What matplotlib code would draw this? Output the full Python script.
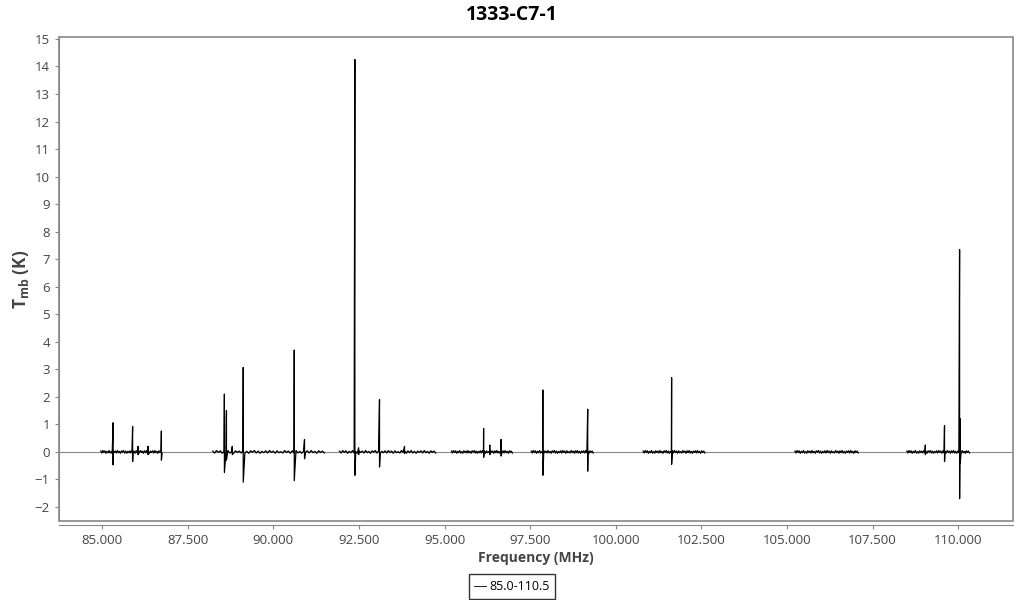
import matplotlib.pyplot as plt
from matplotlib.patches import Rectangle
import numpy as np

plt.rcParams['font.family'] = ['Open Sans', 'DejaVu Sans']
plt.rcParams['mathtext.fontset'] = 'custom'
plt.rcParams['mathtext.bf'] = 'Open Sans:bold'
plt.rcParams['mathtext.rm'] = 'Open Sans'

# observed bands (MHz)
seg_start = [84.96, 88.23, 91.93, 95.20, 97.53, 100.80, 105.23, 108.50]
seg_end = [86.75, 91.49, 94.74, 96.98, 99.34, 102.60, 107.08, 110.33]

# baseline noise (K)
noise = [0.03, -0.04, 0.05, -0.02, 0.04, -0.05, 0.02, -0.03, 0.05, -0.04,
         0.01, -0.05, 0.04, -0.02, 0.03, -0.04, 0.05, -0.03, 0.02, -0.05,
         0.04, -0.01, 0.05, -0.04, 0.03, -0.05, 0.02, -0.03, 0.04, -0.04,
         0.05, -0.02, 0.03, -0.05, 0.04, -0.03, 0.01, -0.04, 0.05, -0.02,
         0.03, -0.05, 0.04, -0.03, 0.05, -0.04, 0.02, -0.05, 0.03, -0.02,
         0.04, -0.04, 0.05, -0.03, 0.02, -0.05, 0.04, -0.02, 0.03, -0.04]

# lines: frequency, peak, trough
line_freq = [85.32, 85.89, 86.05, 86.34, 86.73,
             88.57, 88.63, 88.80, 89.12, 90.61, 90.91,
             92.38, 92.49, 93.10, 93.83,
             96.14, 96.32, 96.65,
             97.87, 99.18,
             101.63,
             109.04, 109.60, 110.04, 110.06]
line_peak = [1.06, 0.92, 0.20, 0.20, 0.76,
             2.10, 1.50, 0.20, 3.07, 3.70, 0.45,
             14.25, 0.15, 1.90, 0.20,
             0.85, 0.25, 0.45,
             2.25, 1.55,
             2.70,
             0.25, 0.95, 7.35, 1.20]
line_trough = [-0.47, -0.35, -0.10, -0.10, -0.30,
               -0.75, -0.30, -0.10, -1.10, -1.05, -0.25,
               -0.85, -0.10, -0.55, -0.05,
               -0.20, -0.10, -0.15,
               -0.85, -0.70,
               -0.45,
               -0.10, -0.35, -1.70, -0.40]

fig = plt.figure(figsize=(10.24, 6.0), dpi=100)
ax = fig.add_axes([59/1024, 79/600, 954/1024, 484/600])

ax.axhline(0, color='#888888', lw=0.8, zorder=1)

first = True
for s, e in zip(seg_start, seg_end):
    xs = list(np.linspace(s, e, len(noise)))
    ys = list(noise)
    for f, p, t in zip(line_freq, line_peak, line_trough):
        if s <= f <= e:
            xs += [f, f + 0.0005]
            ys += [p, t]
    order = np.argsort(xs, kind='stable')
    ax.plot(np.array(xs)[order], np.array(ys)[order], color='black', lw=0.9,
            zorder=2, label='85.0-110.5' if first else None)
    first = False

ax.set_xlim(83.74, 111.6)
ax.set_ylim(-2.51, 15.07)
ax.set_xticks(np.arange(85, 110.1, 2.5))
ax.set_xticklabels(['%.3f' % v for v in np.arange(85, 110.1, 2.5)])
ax.set_yticks(range(-2, 16))

for sp in ['top', 'right']:
    ax.spines[sp].set_visible(False)
ax.spines['bottom'].set_position(('outward', 3))
for sp in ['left', 'bottom']:
    ax.spines[sp].set_color('#888888')
ax.add_patch(Rectangle((0, 0), 1, 1, transform=ax.transAxes, fill=False,
                       edgecolor='#888888', lw=1.2, clip_on=False, zorder=5))
ax.tick_params(colors='#888888', labelcolor='#444444', labelsize=9.5, length=3)

fig.text(0.5, 1 - 15/600, '1333-C7-1', fontsize=14, fontweight='bold',
         ha='center', va='center')
ax.set_xlabel('Frequency (MHz)', fontsize=10, fontweight='bold', color='#444444', labelpad=3)
ax.set_ylabel(r'$\mathbf{T_{mb}}$ (K)', fontsize=12.5, fontweight='bold', color='#444444', labelpad=3)

leg = fig.legend(loc='center', bbox_to_anchor=(0.5, 1 - 586.5/600), frameon=True,
                 fancybox=False, fontsize=9, handlelength=0.9, handletextpad=0.3,
                 borderpad=0.45, borderaxespad=0)
leg.get_frame().set_edgecolor('black')
leg.get_frame().set_linewidth(1.0)
for line in leg.get_lines():
    line.set_linewidth(0.6)

plt.savefig('out.png', dpi=100)
